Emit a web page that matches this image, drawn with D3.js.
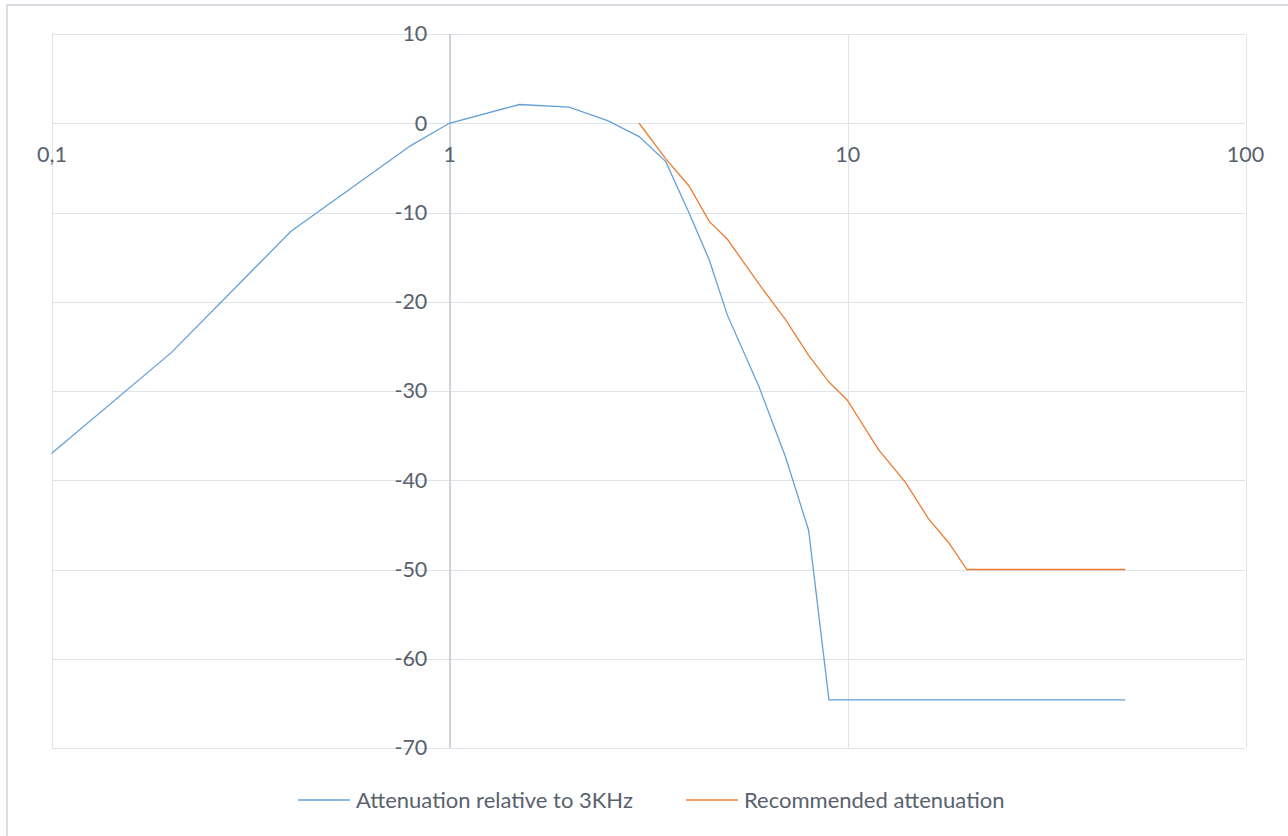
<!DOCTYPE html>
<html>
  <head>
    <meta charset="utf-8">
    <title>Attenuation</title>
    <style>
        body { margin: 0; background: #fff; }
        text { font-family: "Lato", "Open Sans", sans-serif; fill: #59616e; }
        .grid line { stroke: #dfe3ea; stroke-width: 1px; shape-rendering: crispEdges; }
        .line { fill: none; stroke-width: 1.3px; }
    </style>
  </head>
  <body>
    <div id="chart"></div>
    <script src="https://d3js.org/d3.v7.min.js"></script>
    <script>
        // frequency (kHz) and attenuation (dB)
        var freqA = [0.1, 0.2, 0.4, 0.8, 1, 1.5, 2, 2.5, 3, 3.5, 4, 4.5, 5, 6, 7, 8, 9, 50];
        var attenA = [-37, -25.7, -12.1, -2.5, 0, 2.1, 1.8, 0.3, -1.5, -4.3, -10, -15.3, -21.5, -29.5, -37.4, -45.6, -64.6, -64.6];
        var freqR = [3, 3.5, 4, 4.5, 5, 6, 7, 8, 9, 10, 12, 14, 16, 18, 20, 50];
        var attenR = [0, -4, -7, -11, -13, -18, -22, -26, -29, -31, -36.6, -40.2, -44.3, -47, -50, -50];
        var seriesNames = ["Attenuation relative to 3KHz", "Recommended attenuation"];
        var seriesColors = ["#64a0d8", "#ed7d31"];
        var xTicks = [0.1, 1, 10, 100];
        var yTicks = [10, 0, -10, -20, -30, -40, -50, -60, -70];

        var W = 1288, H = 836;
        var margin = { top: 34, right: 43, bottom: 88, left: 51.5 };
        var width = W - margin.left - margin.right;
        var height = H - margin.top - margin.bottom;

        var svg = d3.select("#chart").append("svg")
            .attr("width", W)
            .attr("height", H);

        // chart border
        svg.append("rect")
            .attr("x", 7).attr("y", 5)
            .attr("width", W + 10).attr("height", H + 10)
            .attr("fill", "none")
            .attr("stroke", "#d9dee7")
            .attr("stroke-width", 2);

        var g = svg.append("g")
            .attr("transform", "translate(" + margin.left + "," + margin.top + ")");

        var x = d3.scaleLog().domain([0.1, 100]).range([0, width]);
        var y = d3.scaleLinear().domain([-70, 10]).range([height, 0]);

        // gridlines
        var grid = g.append("g").attr("class", "grid");
        grid.selectAll(".h").data(yTicks).enter().append("line")
            .attr("x1", 0).attr("x2", width)
            .attr("y1", function(d) { return Math.round(y(d)) + 0.5; })
            .attr("y2", function(d) { return Math.round(y(d)) + 0.5; });
        grid.selectAll(".v").data(xTicks).enter().append("line")
            .attr("y1", 0).attr("y2", height)
            .attr("x1", function(d) { return Math.round(x(d)) + 0.5; })
            .attr("x2", function(d) { return Math.round(x(d)) + 0.5; });

        // vertical axis crossing at x = 1
        g.append("line")
            .attr("x1", Math.round(x(1)) + 0.5).attr("x2", Math.round(x(1)) + 0.5)
            .attr("y1", 0).attr("y2", height)
            .attr("stroke", "#c3c9d5")
            .attr("stroke-width", 1.5);

        var fmtX = function(d) { return String(d).replace(".", ","); };
        var fmtY = function(d) { return String(d); };

        var yAxis = g.append("g")
            .attr("transform", "translate(" + (x(1) - 22) + ",0)")
            .call(d3.axisLeft(y).tickValues(yTicks).tickFormat(fmtY).tickSize(0).tickPadding(0));
        yAxis.select(".domain").remove();
        yAxis.selectAll("text").style("font-size", "21.5px").attr("fill", "#59616e");

        var xAxis = g.append("g")
            .attr("transform", "translate(0," + (y(0) + 23) + ")")
            .call(d3.axisBottom(x).tickValues(xTicks).tickFormat(fmtX).tickSize(0).tickPadding(0));
        xAxis.select(".domain").remove();
        xAxis.selectAll("text").style("font-size", "21.5px").attr("fill", "#59616e");

        var line = d3.line()
            .x(function(d) { return x(d[0]); })
            .y(function(d) { return y(d[1]); });

        var series = [d3.zip(freqA, attenA), d3.zip(freqR, attenR)];
        g.selectAll(".line").data(series).enter().append("path")
            .attr("class", "line")
            .attr("stroke", function(d, i) { return seriesColors[i]; })
            .attr("d", line);

        // legend
        var legendX = [298, 686];
        var legend = svg.selectAll(".legend").data(seriesNames).enter().append("g")
            .attr("transform", function(d, i) { return "translate(" + legendX[i] + ",800)"; });
        legend.append("line")
            .attr("x1", 0).attr("x2", 52)
            .attr("stroke", function(d, i) { return seriesColors[i]; })
            .attr("stroke-width", 1.5);
        legend.append("text")
            .attr("x", 58).attr("y", 0)
            .attr("dy", "0.35em")
            .style("font-size", "22px")
            .text(function(d) { return d; });
    </script>
  </body>
</html>
